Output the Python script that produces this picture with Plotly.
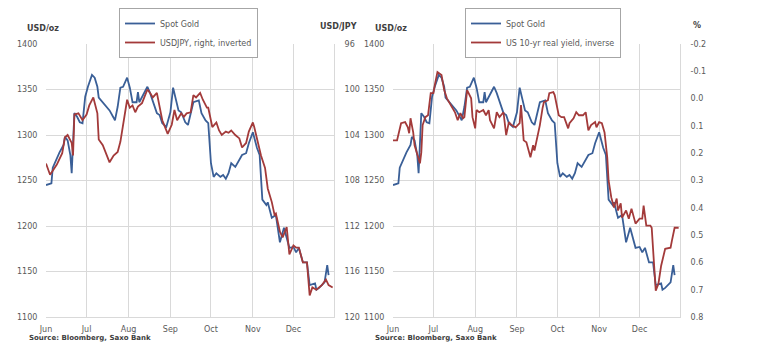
import plotly.graph_objects as go

YEAR = "2016"

# Spot gold (USD/oz)
gold_days = ["06-01","06-05","06-06","06-09","06-11","06-14","06-15","06-17","06-19","06-20",
             "06-22","06-24","06-26","06-28","06-30","07-02","07-05","07-07","07-09","07-10",
             "07-13","07-16","07-18","07-21","07-22","07-24","07-26","07-28","07-31","08-02",
             "08-04","08-07","08-08","08-09","08-13","08-15","08-17","08-19","08-22","08-24",
             "08-26","08-29","09-01","09-03","09-05","09-07","09-09","09-12","09-14","09-16",
             "09-18","09-22","09-24","09-27","09-29","10-01","10-03","10-05","10-08","10-10",
             "10-12","10-14","10-16","10-19","10-22","10-24","10-27","10-29","11-01","11-04",
             "11-06","11-08","11-11","11-12","11-15","11-18","11-21","11-24","11-28","12-01",
             "12-03","12-05","12-08","12-11","12-13","12-17","12-18","12-20","12-24","12-26",
             "12-27"]
gold_vals = [1245,1247,1264,1275,1281,1289,1298,1294,1278,1258,
             1324,1320,1314,1313,1342,1353,1366,1363,1353,1341,
             1336,1331,1327,1319,1316,1331,1352,1353,1363,1352,
             1336,1336,1347,1336,1347,1353,1346,1338,1324,1322,
             1313,1309,1325,1352,1338,1327,1325,1314,1311,1324,
             1336,1338,1324,1316,1313,1269,1254,1258,1254,1256,
             1252,1258,1269,1265,1272,1278,1280,1291,1303,1286,
             1278,1229,1223,1226,1209,1212,1182,1198,1176,1177,
             1171,1176,1160,1160,1135,1137,1130,1132,1138,1157,
             1146]

# USDJPY (right axis, inverted)
jpy_days = ["06-01","06-04","06-09","06-13","06-15","06-17","06-20","06-21","06-22","06-25",
            "06-28","07-01","07-03","07-06","07-09","07-10","07-13","07-16","07-18","07-21",
            "07-24","07-26","07-29","07-31","08-02","08-04","08-06","08-08","08-11","08-15",
            "08-17","08-19","08-22","08-24","08-26","08-29","08-30","09-02","09-04","09-06",
            "09-09","09-11","09-13","09-16","09-18","09-20","09-23","09-25","09-28","09-29",
            "10-01","10-02","10-05","10-07","10-09","10-12","10-14","10-16","10-19","10-22",
            "10-24","10-27","10-29","11-01","11-02","11-04","11-07","11-10","11-12","11-15",
            "11-17","11-18","11-21","11-23","11-26","11-28","12-01","12-03","12-05","12-08",
            "12-11","12-13","12-15","12-18","12-20","12-22","12-25","12-27","12-30"]
jpy_vals = [106.5,107.5,106.6,105.6,104.2,104.0,104.7,105.8,102.2,102.1,
            102.7,102.2,101.4,100.7,102.1,104.4,104.9,105.9,106.4,105.8,
            105.5,104.6,102.4,100.9,101.6,101.4,102.0,101.5,101.2,100.0,
            100.3,100.7,100.3,101.6,102.7,103.6,103.9,103.1,101.8,102.7,
            102.1,102.4,102.1,102.0,100.5,100.7,100.3,100.9,101.6,101.6,
            102.9,103.3,102.9,103.6,104.0,103.7,103.8,103.6,104.0,104.3,
            105.1,104.7,103.7,102.9,103.3,104.3,105.8,106.9,108.7,109.9,
            111.0,110.9,112.5,113.0,112.1,114.5,113.7,113.9,113.9,115.2,
            115.2,118.1,117.4,117.6,117.4,117.2,116.7,117.2,117.4]

# US 10-yr real yield (%), right axis inverted
ry_days = ["06-01","06-04","06-07","06-10","06-12","06-13","06-14","06-16","06-17","06-19",
           "06-21","06-22","06-23","06-25","06-27","06-29","07-01","07-02","07-04","07-07",
           "07-08","07-09","07-11","07-13","07-15","07-17","07-19","07-21","07-23","07-24",
           "07-26","07-29","07-30","08-01","08-02","08-04","08-07","08-09","08-11","08-12",
           "08-15","08-17","08-19","08-22","08-24","08-26","08-28","08-31","09-03","09-04",
           "09-06","09-08","09-11","09-13","09-14","09-16","09-18","09-20","09-21","09-24",
           "09-25","09-28","09-29","10-02","10-04","10-06","10-09","10-10","10-13","10-15",
           "10-17","10-20","10-22","10-24","10-26","10-29","10-30","11-01","11-03","11-05",
           "11-07","11-08","11-10","11-12","11-14","11-15","11-17","11-18","11-21","11-23",
           "11-25","11-28","12-01","12-03","12-04","12-06","12-09","12-10","12-12","12-13",
           "12-15","12-17","12-20","12-24","12-25","12-27","12-30"]
ry_vals = [0.153,0.153,0.090,0.086,0.105,0.127,0.072,0.124,0.171,0.208,
           0.237,0.197,0.097,0.068,0.061,-0.020,-0.020,-0.049,-0.097,-0.086,
           -0.060,-0.031,-0.001,0.017,0.035,0.050,0.079,0.053,0.072,0.068,
           -0.031,-0.001,0.068,0.109,0.042,0.050,0.042,0.061,0.042,0.079,
           0.109,0.050,0.068,0.050,0.134,0.086,0.097,0.105,0.090,0.024,
           0.153,0.160,0.215,0.171,0.190,0.146,0.097,0.035,0.013,0.006,
           -0.020,-0.024,-0.013,0.061,0.068,0.068,0.109,0.090,0.072,0.050,
           0.061,0.061,0.050,0.116,0.097,0.086,0.105,0.086,0.090,0.124,
           0.215,0.300,0.362,0.399,0.366,0.410,0.384,0.436,0.410,0.440,
           0.403,0.458,0.440,0.440,0.392,0.465,0.465,0.473,0.638,0.704,
           0.678,0.612,0.550,0.546,0.520,0.473,0.473]

month_ticks = ["06-01","07-01","08-01","09-01","10-01","11-01","12-01"]
month_labels = ["Jun","Jul","Aug","Sep","Oct","Nov","Dec"]
ry_ticks = [-0.2, -0.1, 0.0, 0.1, 0.2, 0.3, 0.4, 0.5, 0.6, 0.7, 0.8]
ry_labels = ["-0.2", "-0.1", "0.0", "0.1", "0.2", "0.3", "0.4", "0.5", "0.6", "0.7", "0.8"]

def d(lst):
    return [f"{YEAR}-{s}" for s in lst]

# the page body has an 8px margin: figure is 767x350 inside a 775x358 window
W, H, OFF = 767, 350, 8
def px(x):
    return (x - OFF) / W
def py(y):
    return 1 - (y - OFF) / H

BLUE = "#3A5F97"
RED = "#A33A3A"
GRID = "#D9D9D9"
TXT = "#595959"
FONT = "DejaVu Sans"

fig = go.Figure()
fig.add_trace(go.Scatter(x=d(gold_days), y=gold_vals, name="Spot Gold", mode="lines",
                         line=dict(color=BLUE, width=1.8), xaxis="x", yaxis="y", legend="legend"))
fig.add_trace(go.Scatter(x=d(jpy_days), y=jpy_vals, name="USDJPY, right, inverted", mode="lines",
                         line=dict(color=RED, width=1.8), xaxis="x", yaxis="y2", legend="legend"))
fig.add_trace(go.Scatter(x=d(gold_days), y=gold_vals, name="Spot Gold", mode="lines",
                         line=dict(color=BLUE, width=1.8), xaxis="x2", yaxis="y3", legend="legend2"))
fig.add_trace(go.Scatter(x=d(ry_days), y=ry_vals, name="US 10-yr real yield, inverse", mode="lines",
                         line=dict(color=RED, width=1.8), xaxis="x2", yaxis="y4", legend="legend2"))

tf = dict(size=8, color=TXT, family=FONT)
xcommon = dict(type="date", range=[f"{YEAR}-06-01", f"{YEAR}-12-31"],
               tickvals=d(month_ticks), ticktext=month_labels,
               showgrid=True, gridcolor=GRID, gridwidth=1,
               showline=True, linecolor=GRID, linewidth=1,
               ticks="outside", ticklen=4, tickcolor="rgba(0,0,0,0)",
               tickfont=tf, zeroline=False, automargin=False)
ycommon = dict(range=[1100, 1400], dtick=50, tick0=1100, showgrid=True, gridcolor=GRID,
               gridwidth=1, showline=False, zeroline=False, automargin=False,
               ticks="outside", ticklen=6, tickcolor="rgba(0,0,0,0)", tickfont=tf)
yd = [py(317), py(44)]

fig.update_layout(
    width=W, height=H, margin=dict(l=0, r=0, t=0, b=0, autoexpand=False),
    paper_bgcolor="white", plot_bgcolor="white",
    font=dict(family=FONT, size=8, color=TXT),
    xaxis=dict(domain=[px(46), px(334)], anchor="y", **xcommon),
    yaxis=dict(domain=yd, anchor="x", side="left", **ycommon),
    yaxis2=dict(overlaying="y", anchor="x", side="right", range=[120, 96], dtick=4, tick0=96,
                showgrid=False, zeroline=False, ticks="outside", ticklen=8, automargin=False,
                showline=True, linecolor=GRID, linewidth=1,
                tickcolor="rgba(0,0,0,0)", tickfont=tf),
    xaxis2=dict(domain=[px(393), px(680)], anchor="y3", **xcommon),
    yaxis3=dict(domain=yd, anchor="x2", side="left", **ycommon),
    yaxis4=dict(overlaying="y3", anchor="x2", side="right", range=[0.8, -0.2],
                tickvals=ry_ticks, ticktext=ry_labels, showgrid=False, zeroline=False,
                ticks="outside", ticklen=8, tickcolor="rgba(0,0,0,0)", automargin=False,
                showline=True, linecolor=GRID, linewidth=1, tickfont=tf),
    legend=dict(x=px(119), y=1.0, xanchor="left", yanchor="top",
                bgcolor="white", bordercolor="#A6A6A6", borderwidth=1,
                font=dict(size=8, color=TXT, family=FONT), itemwidth=30,
                tracegroupgap=0),
    legend2=dict(x=px(465), y=1.0, xanchor="left", yanchor="top",
                 bgcolor="white", bordercolor="#A6A6A6", borderwidth=1,
                 font=dict(size=8, color=TXT, family=FONT), itemwidth=30,
                 tracegroupgap=0),
)

ann_font = dict(size=8, color="#404040", family=FONT)
src_font = dict(size=7, color="#404040", family=FONT)
annotations = [
    dict(text="<b>USD/oz</b>", x=px(25), y=py(28), xanchor="left", yanchor="middle"),
    dict(text="<b>USD/JPY</b>", x=px(318), y=py(27), xanchor="left", yanchor="middle"),
    dict(text="<b>USD/oz</b>", x=px(373), y=py(28), xanchor="left", yanchor="middle"),
    dict(text="<b>%</b>", x=px(691), y=py(26), xanchor="left", yanchor="middle"),
    dict(text="<b>Source: Bloomberg, Saxo Bank</b>", x=px(27), y=py(338),
         xanchor="left", yanchor="middle", font=src_font),
    dict(text="<b>Source: Bloomberg, Saxo Bank</b>", x=px(373), y=py(338),
         xanchor="left", yanchor="middle", font=src_font),
]
for a in annotations:
    a.setdefault("font", ann_font)
    fig.add_annotation(xref="paper", yref="paper", showarrow=False, **a)

fig.write_html("out.html")
